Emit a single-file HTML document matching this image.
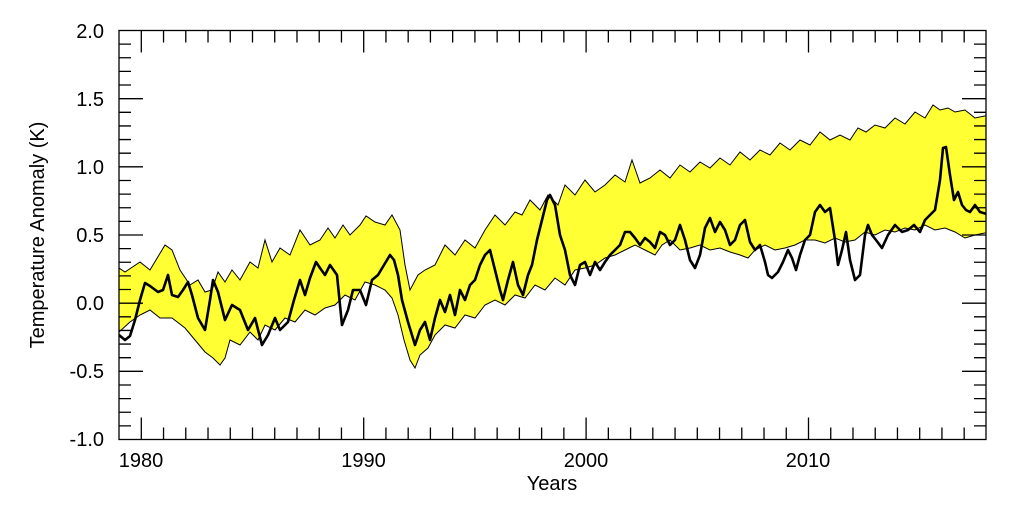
<!DOCTYPE html>
<html><head><style>body{margin:0;background:#fff}svg{display:block}text{font-family:"Liberation Sans",sans-serif;fill:#000}</style></head><body>
<svg width="1024" height="508" viewBox="0 0 1024 508">
<defs><clipPath id="c"><rect x="119" y="30.5" width="867" height="409"/></clipPath></defs>
<g clip-path="url(#c)">
<path fill="#ffff33" stroke="#000" stroke-width="1" d="M119 268 L125 272 L140 262 L150 270 L165 245 L172 250 L180 270 L190 285 L198 280 L205 292 L212 290 L218 272 L225 282 L232 270 L240 280 L250 262 L258 268 L265 240 L272 262 L280 248 L290 255 L300 230 L310 245 L320 240 L328 228 L335 238 L343 225 L350 235 L360 225 L366 216 L375 222 L385 225 L392 215 L400 230 L405 265 L410 290 L418 275 L425 270 L435 265 L445 245 L455 255 L465 240 L475 248 L485 230 L495 215 L505 225 L515 212 L522 215 L530 200 L540 210 L548 195 L558 205 L565 185 L575 195 L585 180 L595 192 L605 185 L615 175 L625 182 L632 160 L640 183 L650 178 L660 170 L670 178 L680 165 L690 172 L700 162 L710 168 L720 158 L730 165 L740 152 L750 160 L760 150 L770 155 L780 143 L790 150 L800 140 L810 145 L820 132 L830 140 L840 135 L850 140 L858 128 L866 132 L875 125 L885 128 L895 118 L905 124 L915 112 L925 118 L933 105 L940 110 L948 108 L955 112 L965 110 L975 118 L990 115
L990 232 L975 235 L965 238 L955 232 L945 228 L935 230 L925 225 L915 230 L905 228 L895 232 L885 230 L875 235 L865 232 L855 240 L845 242 L835 238 L825 243 L815 240 L805 240 L795 245 L785 248 L775 250 L765 245 L755 250 L748 258 L740 255 L730 252 L720 248 L710 250 L700 245 L690 248 L680 250 L670 240 L662 245 L655 255 L645 250 L635 245 L625 250 L615 255 L605 258 L595 265 L585 268 L575 270 L565 285 L555 278 L545 290 L535 285 L525 298 L515 295 L505 305 L495 300 L485 305 L475 318 L465 315 L455 328 L445 325 L435 335 L428 348 L420 355 L415 368 L410 360 L404 340 L398 315 L392 298 L385 290 L375 285 L365 282 L355 300 L345 295 L335 305 L325 308 L315 315 L305 310 L295 322 L285 318 L275 330 L265 325 L258 340 L250 332 L240 345 L230 340 L225 358 L220 365 L213 358 L205 352 L195 340 L185 328 L172 318 L160 318 L150 310 L140 315 L130 322 L119 332 Z"/>
<polyline fill="none" stroke="#000" stroke-width="2.6" stroke-linejoin="round" points="119,335 125,340 130,336 135,320 140,300 145,283 150,286 158,292 163,290 168,275 172,295 178,297 183,290 188,282 192,295 198,318 205,330 210,300 213,280 218,292 225,320 232,305 240,310 248,330 255,318 262,345 268,335 275,318 280,330 288,322 294,300 300,280 305,295 310,278 316,262 320,268 325,275 330,265 337,275 342,325 348,310 353,290 360,290 366,305 372,280 378,275 384,265 390,255 394,260 398,275 402,300 408,322 415,345 420,330 425,322 430,340 435,318 440,300 445,312 450,295 455,315 460,290 465,300 470,285 475,280 480,265 485,255 490,250 495,270 500,290 503,300 508,280 513,262 518,285 523,295 528,275 532,265 537,240 542,220 547,200 550,195 555,205 560,235 565,250 570,275 575,285 580,265 585,262 590,275 595,262 600,270 605,262 610,255 615,250 620,245 625,232 630,232 635,238 640,245 645,238 650,242 655,248 660,232 665,235 670,245 675,240 680,225 685,240 690,260 695,268 700,255 705,228 710,218 715,232 720,222 725,230 730,245 735,240 740,225 745,220 750,242 755,250 760,245 765,262 768,275 772,278 778,272 783,262 788,250 792,258 796,270 800,255 805,240 810,235 815,212 820,205 825,212 830,208 835,240 838,265 842,250 846,232 850,260 855,280 860,275 865,235 868,225 872,235 876,240 882,248 888,235 895,225 902,232 908,230 914,225 920,232 925,220 930,215 935,210 940,180 943,148 946,147 950,175 954,200 958,192 962,205 966,210 970,212 975,205 980,212 990,215"/>
</g>
<rect x="119" y="30.5" width="867" height="409" fill="none" stroke="#000" stroke-width="1.3"/>
<path stroke="#000" stroke-width="1.3" fill="none" d="
M119 44.13h12M119 57.77h12M119 71.4h12M119 85.03h12M119 98.67h24M119 112.3h12M119 125.93h12M119 139.57h12M119 153.2h12M119 166.83h24M119 180.47h12M119 194.1h12M119 207.73h12M119 221.37h12M119 235h24M119 248.63h12M119 262.27h12M119 275.9h12M119 289.53h12M119 303.17h24M119 316.8h12M119 330.43h12M119 344.07h12M119 357.7h12M119 371.33h24M119 384.97h12M119 398.6h12M119 412.23h12M119 425.87h12
M986 44.13h-12M986 57.77h-12M986 71.4h-12M986 85.03h-12M986 98.67h-24M986 112.3h-12M986 125.93h-12M986 139.57h-12M986 153.2h-12M986 166.83h-24M986 180.47h-12M986 194.1h-12M986 207.73h-12M986 221.37h-12M986 235h-24M986 248.63h-12M986 262.27h-12M986 275.9h-12M986 289.53h-12M986 303.17h-24M986 316.8h-12M986 330.43h-12M986 344.07h-12M986 357.7h-12M986 371.33h-24M986 384.97h-12M986 398.6h-12M986 412.23h-12M986 425.87h-12
M141.3 439.5v-22M163.54 439.5v-12M185.78 439.5v-12M208.02 439.5v-12M230.26 439.5v-12M252.5 439.5v-12M274.74 439.5v-12M296.98 439.5v-12M319.22 439.5v-12M341.46 439.5v-12M363.7 439.5v-22M385.94 439.5v-12M408.18 439.5v-12M430.42 439.5v-12M452.66 439.5v-12M474.9 439.5v-12M497.14 439.5v-12M519.38 439.5v-12M541.62 439.5v-12M563.86 439.5v-12M586.1 439.5v-22M608.34 439.5v-12M630.58 439.5v-12M652.82 439.5v-12M675.06 439.5v-12M697.3 439.5v-12M719.54 439.5v-12M741.78 439.5v-12M764.02 439.5v-12M786.26 439.5v-12M808.5 439.5v-22M830.74 439.5v-12M852.98 439.5v-12M875.22 439.5v-12M897.46 439.5v-12M919.7 439.5v-12M941.94 439.5v-12M964.18 439.5v-12
M141.3 30.5v22M163.54 30.5v12M185.78 30.5v12M208.02 30.5v12M230.26 30.5v12M252.5 30.5v12M274.74 30.5v12M296.98 30.5v12M319.22 30.5v12M341.46 30.5v12M363.7 30.5v22M385.94 30.5v12M408.18 30.5v12M430.42 30.5v12M452.66 30.5v12M474.9 30.5v12M497.14 30.5v12M519.38 30.5v12M541.62 30.5v12M563.86 30.5v12M586.1 30.5v22M608.34 30.5v12M630.58 30.5v12M652.82 30.5v12M675.06 30.5v12M697.3 30.5v12M719.54 30.5v12M741.78 30.5v12M764.02 30.5v12M786.26 30.5v12M808.5 30.5v22M830.74 30.5v12M852.98 30.5v12M875.22 30.5v12M897.46 30.5v12M919.7 30.5v12M941.94 30.5v12M964.18 30.5v12"/>
<g font-size="20" text-anchor="end">
<text x="104" y="38">2.0</text><text x="104" y="106">1.5</text><text x="104" y="174">1.0</text><text x="104" y="242">0.5</text><text x="104" y="310">0.0</text><text x="104" y="378">-0.5</text><text x="104" y="446">-1.0</text>
</g>
<g font-size="20" text-anchor="middle">
<text x="141" y="467">1980</text><text x="363.5" y="467">1990</text><text x="586" y="467">2000</text><text x="808" y="467">2010</text>
<text x="552" y="490">Years</text>
<text transform="translate(44 235) rotate(-90)">Temperature Anomaly (K)</text>
</g>
</svg>
</body></html>
